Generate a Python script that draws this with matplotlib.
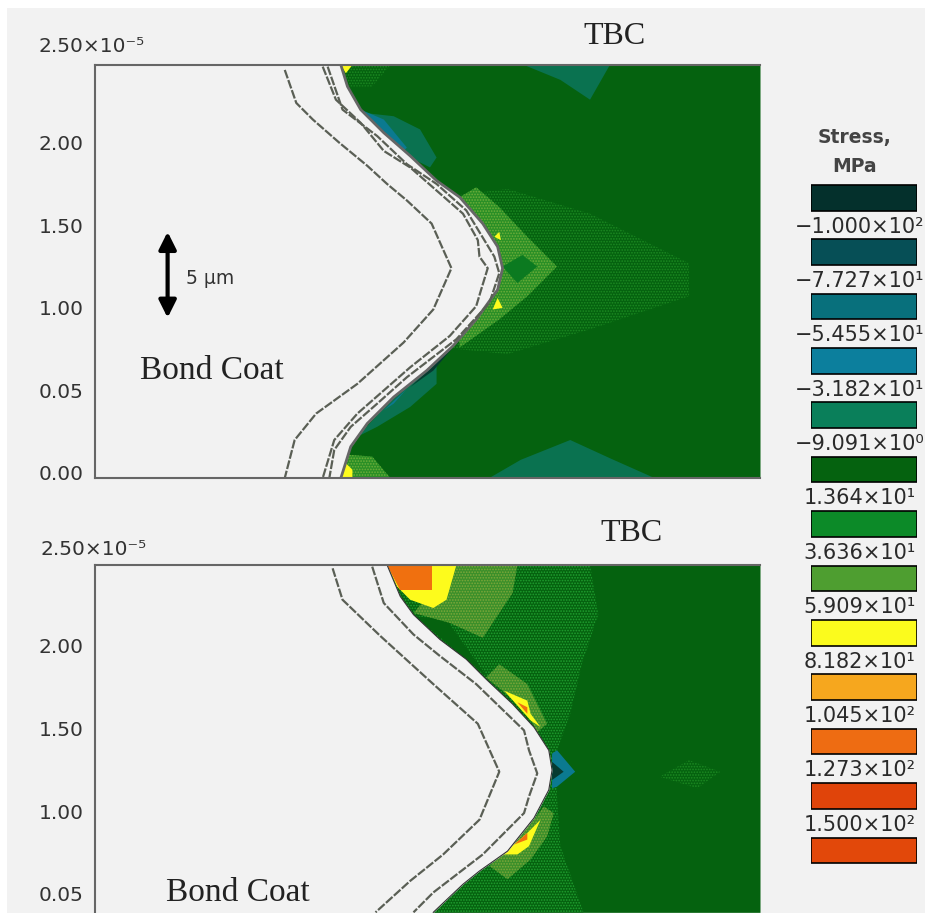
import numpy as np
import matplotlib
matplotlib.use("Agg")
import matplotlib.pyplot as plt
from matplotlib.patches import Rectangle
from matplotlib.transforms import ScaledTranslation

#########################################################
########  Colours  ######################################
#########################################################

BG = "#f2f2f2"
BASE = "#05620f"
MEDIUM = "#0b7a20"
BAND = "#3d9c2a"
OLIVE = "#56982e"
TEAL = "#0a7250"
BLUE = "#0b7a90"
DARK = "#063a30"
YELLOW = "#fdfb1c"
ORANGE = "#f0700f"

# speckled zones: fill colour and dot colour
SPECKLE = {
    "faint": (BASE, "#1c8a22"),
    "medium": (BASE, "#20a030"),
    "band": ("#2a8f26", "#6fae3a"),
    "olive": ("#3b8f2a", "#7fa83a"),
}

#########################################################
########  Data: top panel (x, y in 1e-5 units)  #########
#########################################################

top_iface_x = [1.49, 1.53, 1.61, 1.75, 1.91, 2.07, 2.21, 2.35, 2.44, 2.47, 2.44, 2.31, 2.17, 2.01, 1.81, 1.65, 1.55, 1.49]
top_iface_y = [2.50, 2.37, 2.23, 2.09, 1.95, 1.80, 1.70, 1.54, 1.40, 1.27, 1.14, 0.96, 0.80, 0.65, 0.49, 0.33, 0.19, 0.00]

top_close_x = [1.41, 1.50, 1.71, 1.89, 2.07, 2.25, 2.42, 2.45, 2.39, 2.19, 1.89, 1.71, 1.55, 1.45, 1.42]
top_close_y = [2.49, 2.23, 2.07, 1.90, 1.78, 1.62, 1.34, 1.24, 1.06, 0.84, 0.61, 0.45, 0.31, 0.17, 0.00]

top_mid_x = [1.38, 1.46, 1.61, 1.75, 1.91, 2.07, 2.23, 2.32, 2.33, 2.38, 2.34, 2.31, 2.15, 1.91, 1.75, 1.59, 1.45, 1.38]
top_mid_y = [2.49, 2.29, 2.15, 1.98, 1.88, 1.74, 1.60, 1.44, 1.34, 1.27, 1.14, 1.04, 0.86, 0.67, 0.53, 0.39, 0.23, 0.00]

top_outer_x = [1.15, 1.22, 1.32, 1.48, 1.65, 1.77, 1.89, 2.04, 2.16, 2.05, 1.87, 1.59, 1.34, 1.21, 1.15]
top_outer_y = [2.47, 2.27, 2.17, 2.03, 1.89, 1.78, 1.68, 1.54, 1.27, 1.02, 0.82, 0.57, 0.39, 0.23, 0.00]

# stress zones, drawn in this order
top_zones = [
    ([2.10, 2.50, 3.00, 3.60, 3.60, 3.00, 2.50, 2.10], [1.70, 1.75, 1.60, 1.30, 1.10, 0.90, 0.75, 0.79], "faint"),
    ([2.60, 3.12, 3.00, 2.82], [2.50, 2.50, 2.29, 2.41], TEAL),
    ([2.39, 2.58, 2.88, 3.12, 3.39], [0.00, 0.11, 0.23, 0.12, 0.00], TEAL),
    ([1.40, 1.79, 1.68, 1.40], [2.50, 2.50, 2.37, 2.37], "faint"),
    ([1.40, 1.79, 1.68, 1.40], [0.00, 0.00, 0.13, 0.15], "band"),
    ([1.53, 1.63, 1.81, 1.97, 2.07, 2.03, 1.91, 1.75, 1.61], [2.37, 2.21, 2.19, 2.11, 1.94, 1.88, 1.94, 2.09, 2.23], TEAL),
    ([1.61, 1.75, 1.89, 1.87, 1.75], [2.23, 2.17, 2.00, 1.98, 2.09], BLUE),
    ([1.59, 1.87, 2.07, 2.07, 1.91, 1.71], [0.25, 0.55, 0.73, 0.57, 0.43, 0.31], TEAL),
    ([1.75, 1.89, 1.81], [0.41, 0.54, 0.45], BLUE),
    ([1.91, 2.17, 2.05], [0.55, 0.79, 0.65], DARK),
    ([2.21, 2.31, 2.45, 2.62, 2.80, 2.62, 2.45, 2.21, 2.20, 2.30],
     [1.70, 1.76, 1.64, 1.46, 1.28, 1.10, 0.96, 0.79, 1.00, 1.50], "band"),
    ([2.47, 2.59, 2.68, 2.56], [1.28, 1.35, 1.28, 1.18], MEDIUM),
    ([2.42, 2.45, 2.46], [1.46, 1.49, 1.44], YELLOW),
    ([2.41, 2.44, 2.47], [1.02, 1.09, 1.03], YELLOW),
    ([1.49, 1.56, 1.52], [2.50, 2.50, 2.45], YELLOW),
    ([1.48, 1.56, 1.56, 1.52], [0.00, 0.00, 0.05, 0.09], YELLOW),
]

#########################################################
########  Data: bottom panel  ###########################
#########################################################

bot_iface_x = [1.77, 1.85, 1.93, 2.09, 2.25, 2.37, 2.53, 2.66, 2.75, 2.77, 2.75, 2.66, 2.50, 2.33, 2.23, 2.05]
bot_iface_y = [2.50, 2.31, 2.20, 2.05, 1.93, 1.81, 1.66, 1.52, 1.38, 1.26, 1.14, 0.97, 0.77, 0.65, 0.57, 0.40]

bot_mid_x = [1.68, 1.75, 1.93, 2.09, 2.31, 2.60, 2.63, 2.68, 2.63, 2.60, 2.35, 2.05, 1.93]
bot_mid_y = [2.49, 2.27, 2.08, 1.95, 1.78, 1.50, 1.38, 1.24, 1.10, 1.00, 0.75, 0.52, 0.40]

bot_outer_x = [1.44, 1.50, 1.73, 2.05, 2.32, 2.45, 2.33, 2.11, 1.91, 1.70]
bot_outer_y = [2.48, 2.29, 2.07, 1.78, 1.54, 1.25, 0.96, 0.75, 0.59, 0.40]

bot_medium_x = [3.00, 3.05, 2.95, 2.88, 2.80, 2.80, 2.82, 2.96]
bot_medium_y = [2.50, 2.20, 1.90, 1.60, 1.38, 1.10, 0.80, 0.40]

bot_zones = [
    ([3.42, 3.60, 3.79, 3.65], [1.22, 1.32, 1.25, 1.15], "faint"),
    ([1.94, 2.38, 2.13], [2.19, 1.82, 2.17], BASE),
    ([2.19, 2.56, 2.53, 2.35, 2.15, 1.93], [2.50, 2.50, 2.33, 2.06, 2.15, 2.21], "olive"),
    ([1.77, 2.19, 2.13, 2.05, 1.91, 1.83], [2.50, 2.50, 2.29, 2.24, 2.29, 2.37], YELLOW),
    ([1.77, 2.04, 2.04, 1.85], [2.50, 2.50, 2.35, 2.35], ORANGE),
    ([2.37, 2.45, 2.62, 2.74, 2.68, 2.62, 2.47], [1.82, 1.90, 1.78, 1.54, 1.49, 1.60, 1.74], "olive"),
    ([2.48, 2.62, 2.64, 2.70, 2.64, 2.56], [1.74, 1.68, 1.60, 1.52, 1.56, 1.65], YELLOW),
    ([2.56, 2.62, 2.62], [1.67, 1.64, 1.60], ORANGE),
    ([2.39, 2.50, 2.66, 2.72, 2.78, 2.74, 2.64, 2.50], [0.68, 0.78, 0.96, 1.04, 1.00, 0.86, 0.72, 0.60], "olive"),
    ([2.47, 2.62, 2.70, 2.63, 2.56], [0.75, 0.88, 0.96, 0.80, 0.75], YELLOW),
    ([2.54, 2.62, 2.62], [0.81, 0.88, 0.84], ORANGE),
    ([2.77, 2.80, 2.91, 2.80, 2.77], [1.36, 1.38, 1.25, 1.16, 1.15], BLUE),
    ([2.77, 2.84, 2.77], [1.31, 1.25, 1.20], DARK),
]

#########################################################
########  Data: axis and colour scale text  #############
#########################################################

tick_vals_top = [0.0, 0.5, 1.0, 1.5, 2.0]
tick_labels_top = ["0.00", "0.05", "1.00", "1.50", "2.00"]
tick_vals_bot = [0.5, 1.0, 1.5, 2.0]
tick_labels_bot = ["0.05", "1.00", "1.50", "2.00"]

scale_labels = ["\u22121.000\u00d710\u00b2", "\u22127.727\u00d710\u00b9", "\u22125.455\u00d710\u00b9",
                "\u22123.182\u00d710\u00b9", "\u22129.091\u00d710\u2070", "1.364\u00d710\u00b9",
                "3.636\u00d710\u00b9", "5.909\u00d710\u00b9", "8.182\u00d710\u00b9",
                "1.045\u00d710\u00b2", "1.273\u00d710\u00b2", "1.500\u00d710\u00b2"]
scale_colors = ["#04302c", "#064f56", "#08707c", "#0c7f9d", "#0a7f5a", "#05620f", "#0c8a28",
                "#4e9e30", "#fbfb1d", "#f6a71e", "#ee6c12", "#e0440a", "#e2480a"]

#########################################################
########  Plot  #########################################
#########################################################

W, H = 925, 913
SANS = "DejaVu Sans"
SERIF = "Liberation Serif"
TXT = "#333333"

plt.rcParams["hatch.linewidth"] = 0.8

fig = plt.figure(figsize=(W / 100, H / 100), dpi=100, facecolor="white")
# the scan leaves a white strip at the top and left
fig.add_artist(Rectangle((7 / W, 0), 1 - 7 / W, 1 - 8 / H, transform=fig.transFigure, facecolor=BG, lw=0, zorder=-5))


def panel(top_px, bot_px, ymin, ticks, labels, shift_px):
    ax = fig.add_axes([95 / W, 1 - bot_px / H, 665 / W, (bot_px - top_px) / H], facecolor=BG)
    ax.set_xlim(0, 4.03)
    ax.set_ylim(ymin, 2.5)
    ax.set_xticks([])
    ax.set_yticks(ticks)
    ax.set_yticklabels(labels, family=SANS, fontsize=14.5, color=TXT)
    ax.tick_params(axis="y", length=0, pad=8)
    for lab in ax.get_yticklabels():
        lab.set_transform(lab.get_transform() + ScaledTranslation(0, shift_px / 100, fig.dpi_scale_trans))
    ax.spines["right"].set_visible(False)
    for s in ["top", "left", "bottom"]:
        ax.spines[s].set_color("#666666")
        ax.spines[s].set_linewidth(1.5)
        ax.spines[s].set_zorder(8)
    return ax


def zone(ax, x, y, c, z):
    if c in SPECKLE:
        face, dots = SPECKLE[c]
        ax.fill(x, y, facecolor=face, edgecolor=dots, hatch="......", lw=0, zorder=z)
    else:
        ax.fill(x, y, color=c, lw=0, zorder=z)


def dashed(ax, x, y):
    ax.plot(x, y, color="#5a5f55", lw=1.6, ls=(0, (4, 0.8)), zorder=6)


# top panel
ax1 = panel(65, 478, 0.0, tick_vals_top, tick_labels_top, 5)
ax1.fill_betweenx(top_iface_y, top_iface_x, 4.03, color=BASE, lw=0, zorder=1)
for zx, zy, c in top_zones:
    zone(ax1, zx, zy, c, 2)
ax1.fill_betweenx(top_iface_y, 0, top_iface_x, color=BG, lw=0, zorder=4)
ax1.plot(top_iface_x, top_iface_y, color="#666666", lw=2, zorder=5)
dashed(ax1, top_close_x, top_close_y)
dashed(ax1, top_mid_x, top_mid_y)
dashed(ax1, top_outer_x, top_outer_y)
ax1.annotate("", xy=(0.44, 1.49), xytext=(0.44, 0.97), zorder=7,
             arrowprops=dict(arrowstyle="<|-|>", color="black", lw=3, mutation_scale=26, shrinkA=0, shrinkB=0))
ax1.text(0.55, 1.21, "5 \u00b5m", family=SANS, fontsize=13.5, va="center", color=TXT, zorder=7)
ax1.text(0.27, 0.65, "Bond Coat", family=SERIF, fontsize=24, va="center", color="#222222", zorder=7)
ax1.text(3.15, 2.675, "TBC", family=SERIF, fontsize=23, ha="center", va="center", color="#222222", clip_on=False)
ax1.text(-0.345, 2.576, "2.50\u00d710\u207b\u2075", family=SANS, fontsize=14.5, va="baseline", color=TXT, clip_on=False)

# bottom panel, cut off by the page edge
ax2 = panel(565, 913, 0.396, tick_vals_bot, tick_labels_bot, 2)
ax2.spines["bottom"].set_visible(False)
ax2.fill_betweenx(bot_iface_y, bot_iface_x, 4.03, color=BASE, lw=0, zorder=1)
med_x = np.concatenate([bot_iface_x, bot_medium_x[::-1]])
med_y = np.concatenate([bot_iface_y, bot_medium_y[::-1]])
zone(ax2, med_x, med_y, "medium", 2)
for zx, zy, c in bot_zones:
    zone(ax2, zx, zy, c, 3)
ax2.fill_betweenx(bot_iface_y, 0, bot_iface_x, color=BG, lw=0, zorder=4)
ax2.plot(bot_iface_x, bot_iface_y, color="#333333", lw=0.8, zorder=5)
dashed(ax2, bot_mid_x, bot_mid_y)
dashed(ax2, bot_outer_x, bot_outer_y)
ax2.text(0.43, 0.52, "Bond Coat", family=SERIF, fontsize=24, va="center", color="#222222", zorder=7)
ax2.text(3.25, 2.69, "TBC", family=SERIF, fontsize=23, ha="center", va="center", color="#222222", clip_on=False)
ax2.text(-0.33, 2.563, "2.50\u00d710\u207b\u2075", family=SANS, fontsize=14.5, va="baseline", color=TXT, clip_on=False)

# colour scale
ax3 = fig.add_axes([811 / W, 1 - 890 / H, 106 / W, 720 / H])
ax3.axis("off")
ax3.set_xlim(0, 1)
ax3.set_ylim(12.5 + 0.23, -0.5 - 0.01)
ax3.barh(range(len(scale_colors)), [1] * len(scale_colors), color=scale_colors, height=0.47,
         edgecolor="black", linewidth=1.2)
for i, lab in enumerate(scale_labels):
    ax3.text(0.46, i + 0.64, lab, family=SANS, fontsize=15, ha="center", va="baseline", color="#2a2a2a", clip_on=False)
ax3.text(0.41, -1.10, "Stress,", family=SANS, fontsize=13.5, fontweight="bold", ha="center", va="center", color="#444444", clip_on=False)
ax3.text(0.41, -0.58, "MPa", family=SANS, fontsize=13.5, fontweight="bold", ha="center", va="center", color="#444444", clip_on=False)

plt.savefig("out.png", dpi=100, facecolor="white")
